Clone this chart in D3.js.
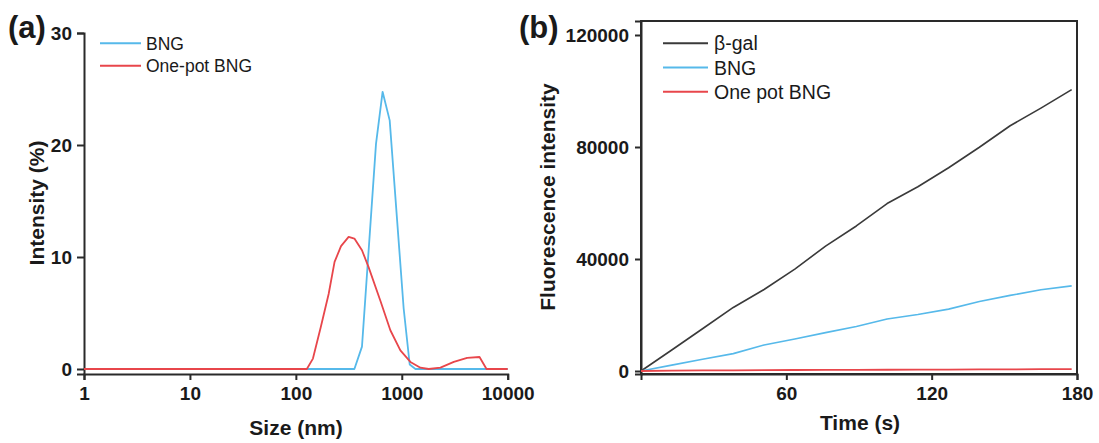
<!DOCTYPE html>
<html>
<head>
<meta charset="utf-8">
<script src="https://cdn.jsdelivr.net/npm/d3@7/dist/d3.min.js"></script>
<style>
  html, body { margin: 0; padding: 0; background: #fff; }
  svg { display: block; font-family: "Liberation Sans", Arial, sans-serif; }
</style>
</head>
<body>
<svg id="chart" width="1099" height="443"></svg>
<script>
// ---------- Panel (a) data: DLS size distribution ----------
const bngSize   = [1, 357, 421, 571, 659, 769, 1042, 1188, 1346, 10000];
const bngInt    = [0, 0, 2.0, 20.1, 24.75, 22.2, 5.4, 0.4, 0, 0];
const oneSize   = [1, 127, 145, 172, 204, 232, 267, 315, 357, 421, 486, 628, 780, 970, 1206, 1500, 1796, 2318, 3100, 4140, 5420, 6310, 10000];
const oneInt    = [0, 0, 0.93, 3.75, 6.7, 9.56, 10.97, 11.8, 11.65, 10.6, 9.1, 6.1, 3.46, 1.67, 0.63, 0.12, 0, 0.12, 0.63, 1.0, 1.07, 0, 0];
const sizeTicks = [1, 10, 100, 1000, 10000];
const intTicks  = [0, 10, 20, 30];

// ---------- Panel (b) data: fluorescence kinetics ----------
const timeS     = [0, 12.7, 25.4, 38.1, 50.8, 63.5, 76.2, 88.9, 101.6, 114.3, 127, 139.7, 152.4, 165.1, 177.8];
const betaGal   = [0, 7500, 15100, 22700, 29100, 36400, 44600, 51800, 59800, 65800, 72600, 79900, 87600, 93900, 100500];
const bngFl     = [0, 2100, 4200, 6200, 9300, 11400, 13700, 15900, 18600, 20200, 22100, 24800, 27000, 29000, 30400];
const onePotFl  = [0, 150, 200, 250, 300, 350, 400, 420, 450, 500, 520, 550, 600, 650, 700];
const timeTicks = [60, 120, 180];
const flTicks   = [0, 40000, 80000, 120000];

const C_BLUE = "#56b9ea", C_RED = "#e8464b", C_BLACK = "#3a3a3a", C_AXIS = "#2a2a2a";

const svg = d3.select("#chart");

function styleAxis(g) {
  g.selectAll(".domain").attr("stroke", C_AXIS).attr("stroke-width", 2);
  g.selectAll(".tick line").attr("stroke", C_AXIS).attr("stroke-width", 2);
  g.selectAll(".tick text").attr("fill", "#1a1a1a")
    .style("font-size", "19px").style("font-weight", "bold")
    .style("font-family", '"Liberation Sans", Arial, sans-serif');
}

// ================= Panel (a) =================
const xa = d3.scaleLog().domain([1, 10000]).range([84, 507.7]);
const ya = d3.scaleLinear().domain([-0.446, 30]).range([374, 33]);

svg.append("g").attr("transform", `translate(0,374)`)
  .call(d3.axisBottom(xa).tickValues(sizeTicks).tickFormat(d3.format("d")).tickSizeOuter(0).tickSize(6).tickPadding(7))
  .call(styleAxis);
svg.append("g").attr("transform", `translate(84,0)`)
  .call(d3.axisLeft(ya).tickValues(intTicks).tickSizeOuter(0).tickSize(7).tickPadding(5))
  .call(styleAxis);

const lineA = (xs, ys) => d3.line().x((d, i) => xa(xs[i])).y((d, i) => ya(ys[i]))(xs);
svg.append("path").attr("d", lineA(bngSize, bngInt)).attr("fill", "none")
  .attr("stroke", C_BLUE).attr("stroke-width", 1.8).attr("stroke-linejoin", "round");
svg.append("path").attr("d", lineA(oneSize, oneInt)).attr("fill", "none")
  .attr("stroke", C_RED).attr("stroke-width", 1.8).attr("stroke-linejoin", "round");

// legend (a)
const legA = [["BNG", C_BLUE], ["One-pot BNG", C_RED]];
legA.forEach(([t, c], i) => {
  const y = 43.3 + i * 22.4;
  svg.append("line").attr("x1", 100).attr("x2", 141).attr("y1", y).attr("y2", y)
    .attr("stroke", c).attr("stroke-width", 2);
  svg.append("text").attr("x", 146).attr("y", y).attr("dy", "0.36em")
    .style("font-size", "17.5px").attr("fill", "#1a1a1a").text(t);
});

svg.append("text").attr("x", 296).attr("y", 435)
  .attr("text-anchor", "middle").style("font-size", "21px").style("font-weight", "bold")
  .attr("fill", "#1a1a1a").text("Size (nm)");
svg.append("text").attr("transform", "translate(44,203) rotate(-90)")
  .attr("text-anchor", "middle").style("font-size", "21px").style("font-weight", "bold")
  .attr("fill", "#1a1a1a").text("Intensity (%)");
svg.append("text").attr("x", 8).attr("y", 38)
  .style("font-size", "31px").style("font-weight", "bold").attr("fill", "#1a1a1a").text("(a)");

// ================= Panel (b) =================
const xb = d3.scaleLinear().domain([0, 180]).range([641, 1077]);
const yb = d3.scaleLinear().domain([-1071, 125000]).range([374, 21]);

svg.append("rect").attr("x", 641).attr("y", 21).attr("width", 1077 - 641).attr("height", 374 - 21)
  .attr("fill", "none").attr("stroke", C_AXIS).attr("stroke-width", 2);

svg.append("g").attr("transform", `translate(0,374)`)
  .call(d3.axisBottom(xb).tickValues(timeTicks).tickSizeOuter(0).tickSize(6).tickPadding(7))
  .call(styleAxis);
svg.append("g").attr("transform", `translate(641,0)`)
  .call(d3.axisLeft(yb).tickValues(flTicks).tickFormat(d3.format("d")).tickSizeOuter(0).tickSize(6).tickPadding(6))
  .call(styleAxis);

const lineB = ys => d3.line().x((d, i) => xb(timeS[i])).y((d, i) => yb(ys[i]))(timeS);
svg.append("path").attr("d", lineB(betaGal)).attr("fill", "none")
  .attr("stroke", C_BLACK).attr("stroke-width", 1.6).attr("stroke-linejoin", "round");
svg.append("path").attr("d", lineB(bngFl)).attr("fill", "none")
  .attr("stroke", C_BLUE).attr("stroke-width", 1.6).attr("stroke-linejoin", "round");
svg.append("path").attr("d", lineB(onePotFl)).attr("fill", "none")
  .attr("stroke", C_RED).attr("stroke-width", 1.8).attr("stroke-linejoin", "round");

const legB = [["β-gal", C_BLACK], ["BNG", C_BLUE], ["One pot BNG", C_RED]];
legB.forEach(([t, c], i) => {
  const y = 43.3 + i * 24.2;
  svg.append("line").attr("x1", 663).attr("x2", 708).attr("y1", y).attr("y2", y)
    .attr("stroke", c).attr("stroke-width", 2);
  svg.append("text").attr("x", 714).attr("y", y).attr("dy", "0.36em")
    .style("font-size", "19.5px").attr("fill", "#1a1a1a").text(t);
});

svg.append("text").attr("x", 860).attr("y", 430)
  .attr("text-anchor", "middle").style("font-size", "21px").style("font-weight", "bold")
  .attr("fill", "#1a1a1a").text("Time (s)");
svg.append("text").attr("transform", "translate(555,197) rotate(-90)")
  .attr("text-anchor", "middle").style("font-size", "21px").style("font-weight", "bold")
  .attr("fill", "#1a1a1a").text("Fluorescence intensity");
svg.append("text").attr("x", 519).attr("y", 38)
  .style("font-size", "31px").style("font-weight", "bold").attr("fill", "#1a1a1a").text("(b)");
</script>
</body>
</html>
